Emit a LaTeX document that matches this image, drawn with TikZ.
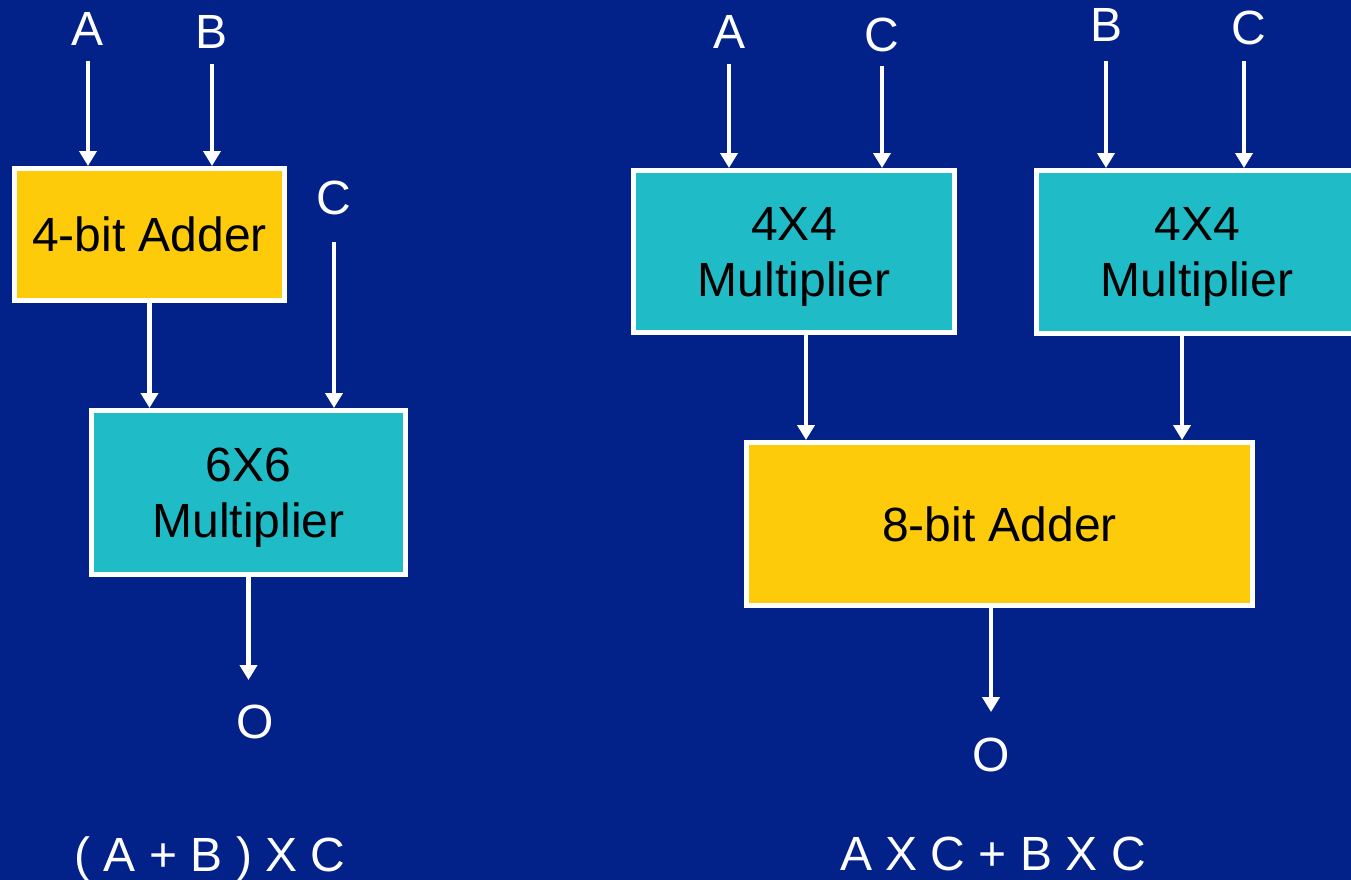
\documentclass[tikz,border=0pt]{standalone}
\usepackage{fontspec}
\setmainfont{Liberation Sans}
\usetikzlibrary{arrows.meta, calc}
\definecolor{slidenavy}{HTML}{032289}
\definecolor{mulcyan}{HTML}{1FBBC7}
\definecolor{addgold}{HTML}{FDCB0A}

\begin{document}
\begin{tikzpicture}[
  x=1pt, y=-1pt,
  >={Triangle[length=15pt, width=17pt]},
  wire/.style={->, white, line width=4.5pt},
  blk/.style={draw=white, line width=5pt, inner sep=0pt, align=center,
    text depth=0pt, font=\fontsize{48}{56}\selectfont},
  adder/.style={blk, fill=addgold},
  mult/.style={blk, fill=mulcyan},
  lbl/.style={white, inner sep=0pt, text depth=0pt,
    font=\fontsize{48}{56}\selectfont},
]

% ══════════════════════════════════════════════════════
% Background
% ══════════════════════════════════════════════════════
\fill[slidenavy] (0,0) rectangle (1351,880);
\useasboundingbox (0,0) rectangle (1351,880);

% ══════════════════════════════════════════════════════
% Left: add first, then multiply
% ══════════════════════════════════════════════════════
\node[lbl] (inAL) at (88,29)  {A};
\node[lbl] (inBL) at (212,32) {B};
\node[lbl] (inCL) at (334,198) {C};

\node[adder, minimum width=270pt, minimum height=132pt]
  (add4) at (149.5,234.5) {4-bit Adder};
\node[mult, minimum width=314pt, minimum height=164pt]
  (mul6) at (248.5,492.5) {6X6\\Multiplier};

\node[lbl] (outL) at (255,722) {O};
\node[lbl] (exprL) at (210,854) {( A + B ) X C};

\draw[wire, shorten <=15pt] (inAL.south) -- (inAL.south |- add4.north);
\draw[wire, shorten <=15pt] (inBL.south) -- (inBL.south |- add4.north);
\draw[wire] (add4.south) -- (add4.south |- mul6.north);
\draw[wire, shorten <=27pt] (inCL.south) -- (inCL.south |- mul6.north);
\draw[wire, shorten >=25pt] (mul6.south) -- (mul6.south |- outL.north);

% ══════════════════════════════════════════════════════
% Right: two multipliers, then one adder
% ══════════════════════════════════════════════════════
\node[lbl] (inAR)  at (729,32)  {A};
\node[lbl] (inCR1) at (882,35)  {C};
\node[lbl] (inBR)  at (1106,25) {B};
\node[lbl] (inCR2) at (1249,28) {C};

\node[mult, minimum width=321pt, minimum height=162pt]
  (mulL) at (794,251.5) {4X4\\Multiplier};
\node[mult, minimum width=321pt, minimum height=163pt]
  (mulR) at (1197,252) {4X4\\Multiplier};
\node[adder, minimum width=506pt, minimum height=163pt]
  (add8) at (999.5,524) {8-bit Adder};

\node[lbl] (outR) at (991,755) {O};
\node[lbl] (exprR) at (993,854) {A X C + B X C};

\draw[wire, shorten <=15pt] (inAR.south)  -- (inAR.south |- mulL.north);
\draw[wire, shorten <=14pt] (inCR1.south) -- (inCR1.south |- mulL.north);
\draw[wire, shorten <=19pt] (inBR.south)  -- (inBR.south |- mulR.north);
\draw[wire, shorten <=16pt] ([xshift=-5pt]inCR2.south)
  -- ([xshift=-5pt]inCR2.south |- mulR.north);
\draw[wire] ([xshift=12pt]mulL.south) -- ([xshift=12pt]mulL.south |- add8.north);
\draw[wire] ([xshift=-15pt]mulR.south) -- ([xshift=-15pt]mulR.south |- add8.north);
\draw[wire, shorten >=26pt] (outR.north |- add8.south) -- (outR.north);

\end{tikzpicture}
\end{document}
